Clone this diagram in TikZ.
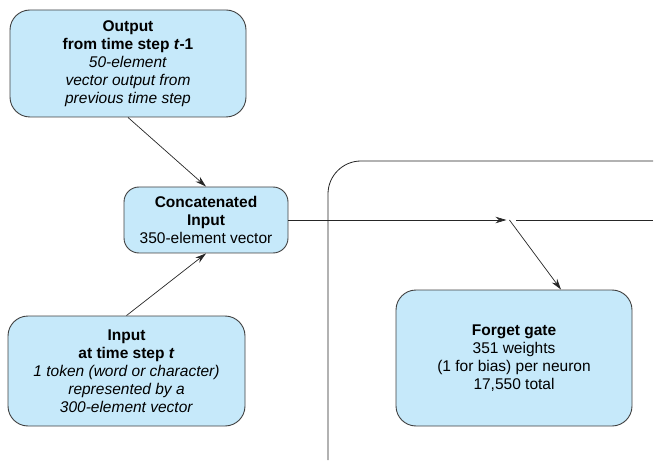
\documentclass[tikz,border=0pt]{standalone}
\usepackage{fontspec}
\setmainfont{Liberation Sans}
\usetikzlibrary{positioning,arrows.meta}
\definecolor{gateblue}{RGB}{198,233,250}

\begin{document}
\begin{tikzpicture}[x=1pt, y=-1pt,
	box/.style={draw=black!75, line width=0.9pt, fill=gateblue, rounded corners=20pt, align=center, inner sep=0pt, font=\fontsize{15.5}{17.9}\selectfont},
	flow/.style={-{Stealth[length=11pt,width=6.5pt]}, line width=0.7pt, black!85},
	wire/.style={line width=0.8pt, black!85}]
	\useasboundingbox (0,0) rectangle (666,470);
	% boxes
	\node[box, minimum width=236pt, minimum height=107pt] (prev) at (128,63.5) {\textbf{Output}\\\textbf{from time step \textit{t}-1}\\\textit{50-element}\\\textit{vector output from}\\\textit{previous time step}};
	\node[box, rounded corners=15pt, minimum width=164pt, minimum height=66pt] (concat) at (206,220) {\textbf{Concatenated}\\\textbf{Input}\\350-element vector};
	\node[box, minimum width=237pt, minimum height=110pt] (input) at (126.5,371) {\textbf{Input}\\\textbf{at time step \textit{t}}\\\textit{1 token (word or character)}\\\textit{represented by a}\\\textit{300-element vector}};
	\node[box, minimum width=236pt, minimum height=136pt] (forget) at (514,358) {\textbf{Forget gate}\\351 weights\\(1 for bias) per neuron\\17,550 total};
	% cell frame
	\coordinate (ftop) at (653,161);
	\coordinate (fbot) at (328,460);
	\draw[wire, rounded corners=33pt] (fbot) |- (ftop);
	% connectors
	\coordinate[right=218pt of concat.east] (split);
	\coordinate[right=10pt of split] (cont);
	\coordinate[xshift=47pt] (fgin) at (forget.north);
	\draw[flow] (prev.south) -- (concat.north);
	\draw[flow] (input.north) -- (concat.south);
	\draw[flow] (concat.east) -- (split);
	\draw[wire] (cont) -- (cont -| ftop);
	\draw[flow] ([xshift=3pt]split) -- (fgin);
\end{tikzpicture}
\end{document}
